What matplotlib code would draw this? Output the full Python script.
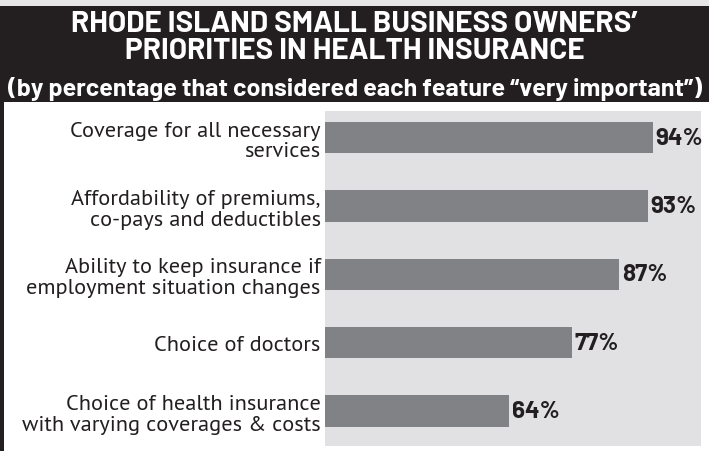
import matplotlib.pyplot as plt
from matplotlib.patches import Rectangle

features = [
    "Coverage for all necessary\nservices",
    "Affordability of premiums,\nco-pays and deductibles",
    "Ability to keep insurance if\nemployment situation changes",
    "Choice of doctors",
    "Choice of health insurance\nwith varying coverages & costs",
]
percent = [94, 93, 87, 77, 64]

title_1 = "RHODE ISLAND SMALL BUSINESS OWNERS\u2019"
title_2 = "PRIORITIES IN HEALTH INSURANCE"
subtitle = "(by percentage that considered each feature \u201cvery important\u201d)"

dark = "#231f20"
bar_col = "#818285"
panel = "#e1e1e3"
head_font = ["Barlow", "DejaVu Sans"]
body_font = ["PT Sans", "DejaVu Sans"]

W, H = 709, 452
fig = plt.figure(figsize=(W / 100, H / 100), dpi=100)
fig.patch.set_facecolor("white")

# header block and left rule
fig.patches.append(Rectangle((0, 1 - 7 / H), 1, 7 / H, transform=fig.transFigure,
                             facecolor="#e6e6e6", edgecolor="none"))
fig.patches.append(Rectangle((0, 1 - 103 / H), 1, 96 / H, transform=fig.transFigure,
                             facecolor=dark, edgecolor="none"))
fig.patches.append(Rectangle((0, 0), 4 / W, 1 - 7 / H, transform=fig.transFigure,
                             facecolor=dark, edgecolor="none"))

fig.text(0.5, 1 - 32 / H, title_1, ha="center", va="baseline", color="white",
         fontsize=21.4, fontweight="bold", family=head_font)
fig.text(0.5, 1 - 59 / H, title_2, ha="center", va="baseline", color="white",
         fontsize=21.4, fontweight="bold", family=head_font)
fig.text(0.5, 1 - 96 / H, subtitle, ha="center", va="baseline", color="white",
         fontsize=18, fontweight="bold", family=head_font)

ax = fig.add_axes([325 / W, 5 / H, 376 / W, 335 / H])
ax.set_facecolor(panel)
pos = range(len(percent))
ax.barh(pos, percent, height=0.46, color=bar_col)
ax.set_xlim(25.4, 104.1)
ax.set_ylim(4.51, -0.39)

for i, v in enumerate(percent):
    ax.annotate(f"{v}%", (v, i), xytext=(2, 0), textcoords="offset points",
                ha="left", va="center", fontsize=17.5, fontweight="bold",
                color=dark, family=head_font, annotation_clip=False)

ax.set_xticks([])
ax.set_yticks(list(pos), features)
ax.tick_params(axis="y", length=0, pad=3)
for lab in ax.get_yticklabels():
    lab.set_family(body_font)
    lab.set_fontsize(16)
    lab.set_color(dark)
    lab.set_linespacing(1.1)
for s in ax.spines.values():
    s.set_visible(False)

plt.savefig("out.png", dpi=100)
